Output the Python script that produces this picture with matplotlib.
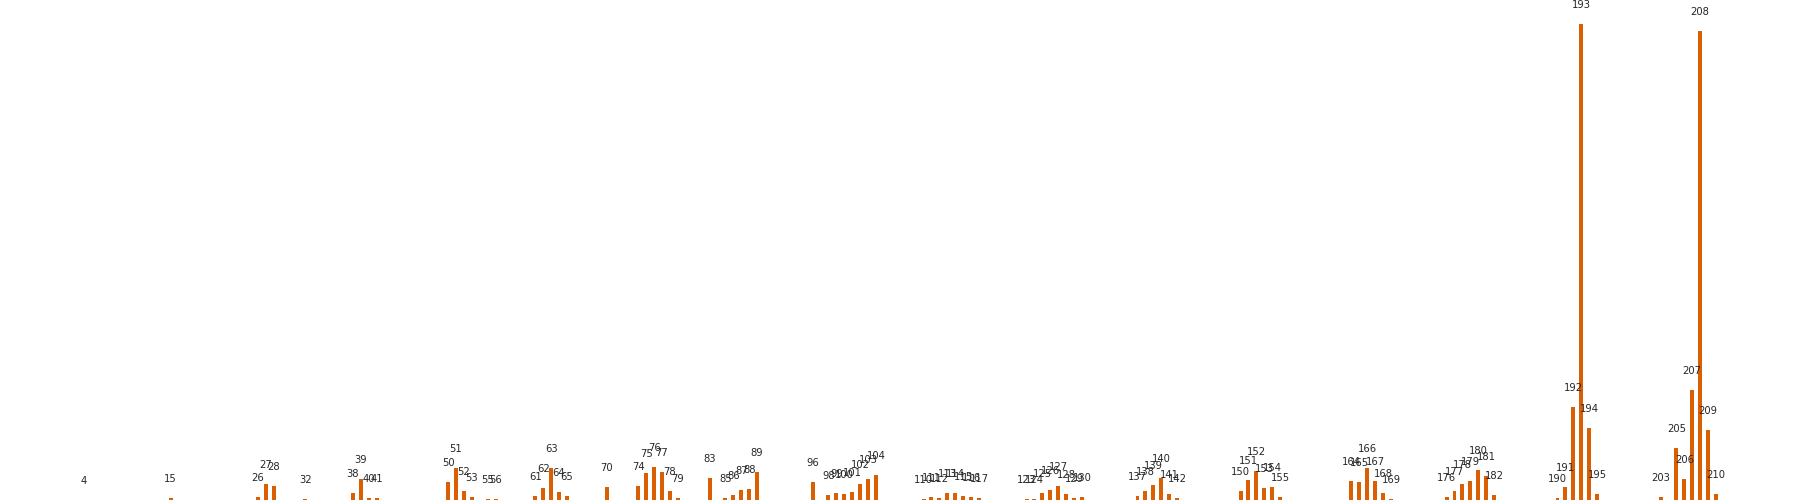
import matplotlib
matplotlib.use("Agg")
import matplotlib.pyplot as plt

# bar index -> height (only the indices that carry a label)
idx = [4, 15, 26, 27, 28, 32, 38, 39, 40, 41,
       50, 51, 52, 53, 55, 56, 61, 62, 63, 64, 65,
       70, 74, 75, 76, 77, 78, 79, 83, 85, 86, 87, 88, 89,
       96, 98, 99, 100, 101, 102, 103, 104,
       110, 111, 112, 113, 114, 115, 116, 117,
       123, 124, 125, 126, 127, 128, 129, 130,
       137, 138, 139, 140, 141, 142,
       150, 151, 152, 153, 154, 155,
       164, 165, 166, 167, 168, 169,
       176, 177, 178, 179, 180, 181, 182,
       190, 191, 192, 193, 194, 195,
       203, 205, 206, 207, 208, 209, 210]
vals = [0.2, 2, 3, 16, 14, 1, 7, 21, 2, 2,
        18, 32, 9, 3, 1, 1, 4, 12, 32, 8, 4,
        13, 14, 27, 33, 28, 9, 2, 22, 2, 5, 10, 11, 28,
        18, 5, 7, 6, 8, 16, 21, 25,
        1, 3, 2, 7, 7, 4, 3, 2,
        1, 1, 7, 10, 14, 6, 2, 3,
        4, 9, 15, 22, 6, 2,
        9, 20, 29, 12, 13, 3,
        19, 18, 32, 19, 7, 1,
        3, 9, 16, 19, 30, 24, 5,
        2, 13, 93, 476, 72, 6,
        3, 52, 21, 110, 469, 70, 6]

bar_color = "#d95f02"

fig = plt.figure(figsize=(18, 5), dpi=100)
ax = fig.add_axes([0, 0, 1, 1])
ax.axis("off")

ax.bar(idx, vals, width=0.5, color=bar_color)
for i, v in zip(idx, vals):
    ax.text(i, v + 19, str(i), ha="center", va="center",
            fontsize=7.2, color="#262626")

ax.set_xlim(-6.54, 220.6)
ax.set_ylim(0, 500)

fig.savefig("out.png", dpi=100)
